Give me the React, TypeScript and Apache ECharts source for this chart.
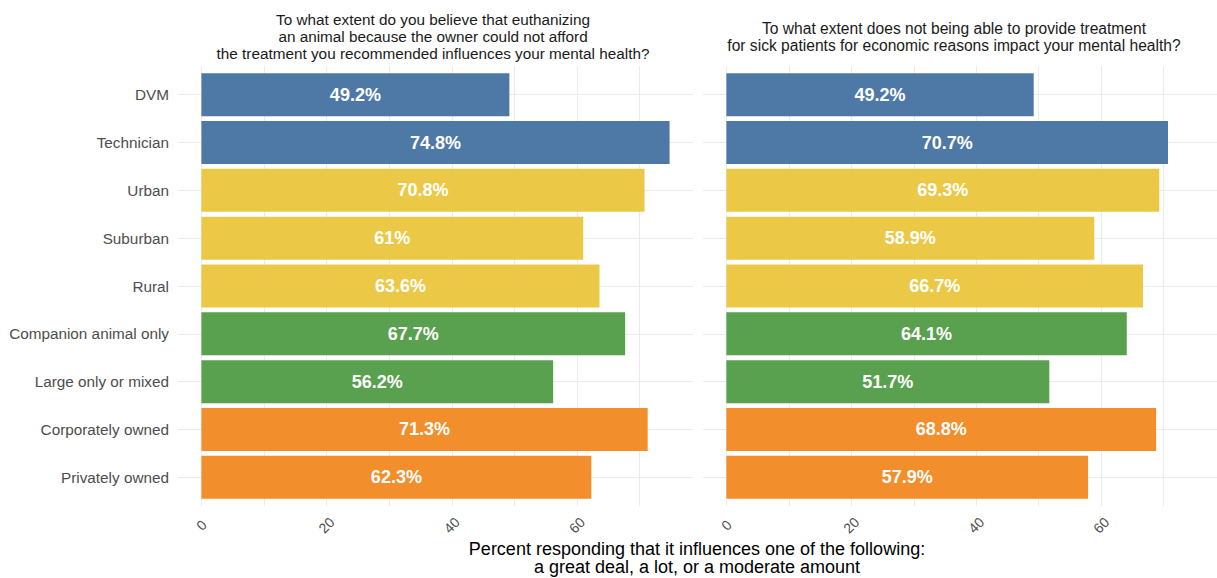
import React, { useEffect, useRef } from "react";
import * as echarts from "echarts";

const categories = [
  "DVM",
  "Technician",
  "Urban",
  "Suburban",
  "Rural",
  "Companion animal only",
  "Large only or mixed",
  "Corporately owned",
  "Privately owned",
];
const groupOf = ["role", "role", "loc", "loc", "loc", "type", "type", "own", "own"];
const leftValues = [49.2, 74.8, 70.8, 61, 63.6, 67.7, 56.2, 71.3, 62.3];
const rightValues = [49.2, 70.7, 69.3, 58.9, 66.7, 64.1, 51.7, 68.8, 57.9];
const groupColors: Record<string, string> = {
  role: "#4e79a7",
  loc: "#ebc947",
  type: "#59a14f",
  own: "#f28e2b",
};
const tickValues = [0, 20, 40, 60];
const gridStep = 10;
const gridMax = 70;
const leftTitle =
  "To what extent do you believe that euthanizing\nan animal because the owner could not afford\nthe treatment you recommended influences your mental health?";
const rightTitle =
  "To what extent does not being able to provide treatment\nfor sick patients for economic reasons impact your mental health?";
const xTitleLines = [
  "Percent responding that it influences one of the following:",
  "a great deal, a lot, or a moderate amount",
];

const FONT = "'Liberation Sans', Arial, Helvetica, sans-serif";

export default function App() {
  const ref = useRef<HTMLDivElement>(null);
  useEffect(() => {
    if (!ref.current) return;
    const chart = echarts.init(ref.current, undefined, { renderer: "svg" });
    const maxAll = Math.max(...leftValues, ...rightValues);
    const xMin = -0.05 * maxAll;
    const xMax = maxAll * 1.05;

    // panel layout (pixels)
    const panelTop = 66;
    const panelBottom = 506;
    const panels = [
      { left: 178, right: 693 },
      { left: 703, right: 1217 },
    ];
    const n = categories.length;
    const band = (panelBottom - panelTop) / (n - 1 + 1.2);
    const firstCenter = panelTop + 0.6 * band;
    const lastCenter = firstCenter + (n - 1) * band;

    const grids: any[] = [];
    const xAxes: any[] = [];
    const yAxes: any[] = [];
    const series: any[] = [];
    const gridColor = "#ebebeb";

    panels.forEach((p, pi) => {
      const width = p.right - p.left;
      const scale = width / (xMax - xMin);
      // bar grid
      const gBar = grids.length;
      grids.push({
        left: p.left,
        width,
        top: firstCenter - band / 2,
        height: band * n,
      });
      xAxes.push({
        type: "value",
        gridIndex: gBar,
        min: xMin,
        max: xMax,
        axisLine: { show: false },
        axisTick: { show: false },
        splitLine: { show: false },
        axisLabel: {
          customValues: tickValues,
          rotate: 45,
          align: "center",
          verticalAlign: "middle",
          color: "#4d4d4d",
          fontSize: 14,
          fontFamily: FONT,
          margin: 24,
          formatter: (v: number) => String(Math.round(v)),
        },
      });
      yAxes.push({
        type: "category",
        gridIndex: gBar,
        data: categories,
        inverse: true,
        axisLine: { show: false },
        axisTick: { show: false },
        splitLine: { show: false },
        axisLabel: {
          show: pi === 0,
          color: "#4d4d4d",
          fontSize: 15.3,
          fontFamily: FONT,
          margin: 9,
        },
      });
      series.push({
        type: "bar",
        xAxisIndex: gBar,
        yAxisIndex: gBar,
        z: 3,
        barCategoryGap: "10%",
        data: (pi === 0 ? leftValues : rightValues).map((v, i) => ({
          value: v,
          itemStyle: { color: groupColors[groupOf[i]] },
        })),
        label: {
          show: true,
          position: "inside",
          color: "#ffffff",
          fontWeight: "bold",
          fontSize: 18,
          fontFamily: FONT,
          formatter: (q: any) => `${q.value}%`,
        },
      });

      // vertical gridlines grid
      const gV = grids.length;
      grids.push({
        left: p.left + (0 - xMin) * scale,
        width: gridMax * scale,
        top: panelTop,
        height: panelBottom - panelTop,
      });
      xAxes.push({
        type: "value",
        gridIndex: gV,
        min: 0,
        max: gridMax,
        interval: gridStep,
        axisLine: { show: false },
        axisTick: { show: false },
        axisLabel: { show: false },
        splitLine: { show: true, lineStyle: { color: gridColor, width: 1 } },
      });
      yAxes.push({
        type: "value",
        gridIndex: gV,
        show: false,
        splitLine: { show: false },
      });

      // horizontal gridlines grid
      const gH = grids.length;
      grids.push({
        left: p.left,
        width,
        top: firstCenter,
        height: lastCenter - firstCenter,
      });
      xAxes.push({
        type: "value",
        gridIndex: gH,
        show: false,
        splitLine: { show: false },
      });
      yAxes.push({
        type: "value",
        gridIndex: gH,
        min: 0,
        max: n - 1,
        interval: 1,
        axisLine: { show: false },
        axisTick: { show: false },
        axisLabel: { show: false },
        splitLine: { show: true, lineStyle: { color: gridColor, width: 1 } },
      });
    });

    const xTitleStyle = {
      fontSize: 18,
      fontWeight: "normal",
      color: "#000000",
      lineHeight: 18,
      fontFamily: FONT,
    };

    chart.setOption({
      animation: false,
      backgroundColor: "#ffffff",
      textStyle: { fontFamily: FONT },
      title: [
        {
          text: leftTitle,
          left: 433,
          top: 10.5,
          padding: 0,
          textAlign: "center",
          textStyle: {
            fontSize: 15.3,
            fontWeight: "normal",
            color: "#1a1a1a",
            lineHeight: 17,
            fontFamily: FONT,
          },
        },
        {
          text: rightTitle,
          left: 954,
          top: 19.5,
          padding: 0,
          textAlign: "center",
          textStyle: {
            fontSize: 15.6,
            fontWeight: "normal",
            color: "#1a1a1a",
            lineHeight: 17,
            fontFamily: FONT,
          },
        },
        ...xTitleLines.map((t, i) => ({
          text: t,
          left: 697,
          top: 540 + i * 18,
          padding: 0,
          textAlign: "center",
          textStyle: xTitleStyle,
        })),
      ],
      grid: grids,
      xAxis: xAxes,
      yAxis: yAxes,
      series,
    });
    return () => chart.dispose();
  }, []);
  return (
    <div
      ref={ref}
      style={{ position: "fixed", left: 0, top: 0, width: 1217, height: 578 }}
    />
  );
}
